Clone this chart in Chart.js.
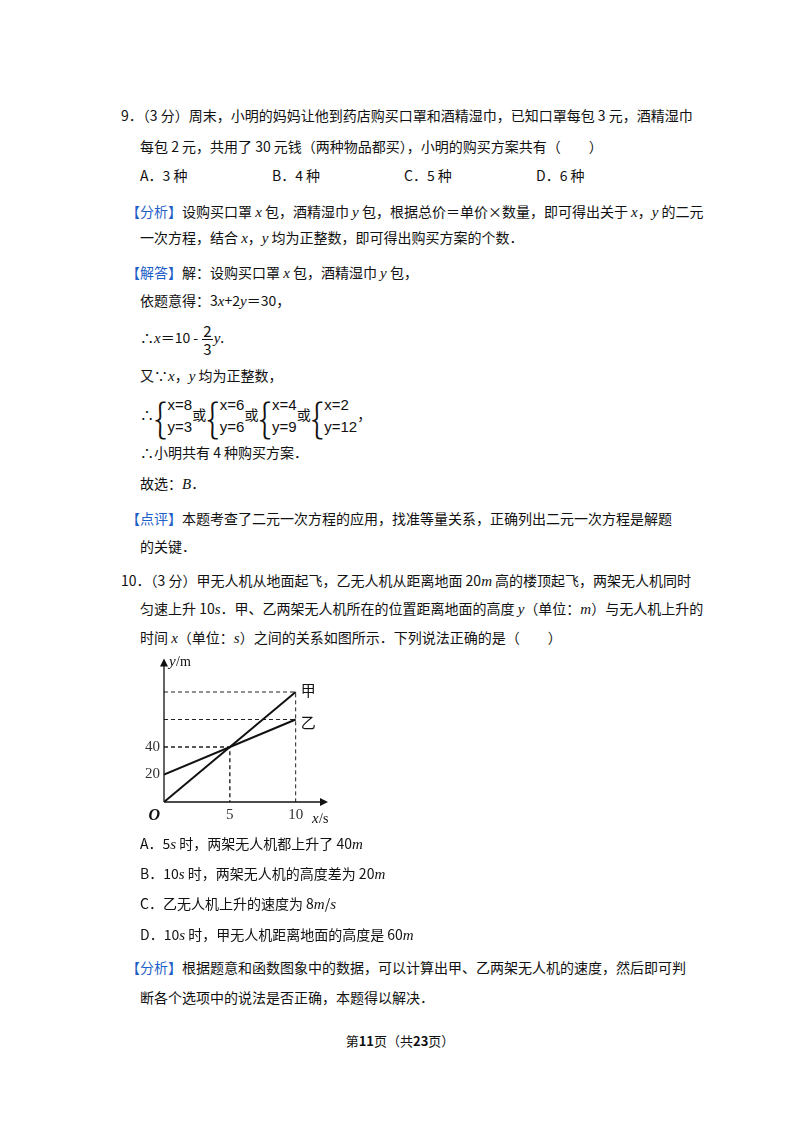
<!DOCTYPE html>
<html><head><meta charset="utf-8">
<script src="https://cdn.jsdelivr.net/npm/chart.js@4"></script>
<style>
body{margin:0;width:800px;height:1132px;background:#fff;font-family:"Noto Sans CJK SC","DejaVu Serif",serif;font-size:14px;color:#111;position:relative}
.l{position:absolute;white-space:nowrap;line-height:20px}
.b{color:#1f5fc8}
i{font-family:"Liberation Serif",serif;font-size:15px}
#wrap{position:absolute;left:130px;top:655px;width:210px;height:180px}
.br{font-size:40px;vertical-align:middle;font-weight:200;margin-right:1px}
.sys{display:inline-block;vertical-align:middle;line-height:22px;font-size:15px;font-family:"Liberation Sans",sans-serif}
</style></head><body>
<div class="l" style="left:121px;top:105px">9．（3 分）周末，小明的妈妈让他到药店购买口罩和酒精湿巾，已知口罩每包 3 元，酒精湿巾</div>
<div class="l" style="left:140px;top:136px">每包 2 元，共用了 30 元钱（两种物品都买），小明的购买方案共有（　　）</div>
<div class="l" style="left:140px;top:165px">A．3 种</div>
<div class="l" style="left:272px;top:165px">B．4 种</div>
<div class="l" style="left:404px;top:165px">C．5 种</div>
<div class="l" style="left:536px;top:165px">D．6 种</div>
<div class="l" style="left:126px;top:201px"><span class="b">【分析】</span>设购买口罩 <i>x</i> 包，酒精湿巾 <i>y</i> 包，根据总价＝单价×数量，即可得出关于 <i>x</i>，<i>y</i> 的二元</div>
<div class="l" style="left:140px;top:227px">一次方程，结合 <i>x</i>，<i>y</i> 均为正整数，即可得出购买方案的个数．</div>
<div class="l" style="left:126px;top:262px"><span class="b">【解答】</span>解：设购买口罩 <i>x</i> 包，酒精湿巾 <i>y</i> 包，</div>
<div class="l" style="left:140px;top:290px">依题意得：3<i>x</i>+2<i>y</i>＝30，</div>
<div class="l" style="left:140px;top:322px">∴<i>x</i>＝10 - <span style="display:inline-block;vertical-align:middle;text-align:center;font-size:15px;line-height:17px;margin:0 1px"><span style="display:block;border-bottom:1px solid #111;padding:0 1px">2</span>3</span><i>y</i>.</div>
<div class="l" style="left:140px;top:365px">又∵<i>x</i>，<i>y</i> 均为正整数，</div>
<div class="l" style="left:140px;top:394px">∴<span class="br">{</span><span class="sys">x=8<br>y=3</span>或<span class="br">{</span><span class="sys">x=6<br>y=6</span>或<span class="br">{</span><span class="sys">x=4<br>y=9</span>或<span class="br">{</span><span class="sys">x=2<br>y=12</span>，</div>
<div class="l" style="left:140px;top:442px">∴小明共有 4 种购买方案．</div>
<div class="l" style="left:140px;top:473px">故选：<i>B</i>．</div>
<div class="l" style="left:126px;top:508px"><span class="b">【点评】</span>本题考查了二元一次方程的应用，找准等量关系，正确列出二元一次方程是解题</div>
<div class="l" style="left:140px;top:536px">的关键．</div>
<div class="l" style="left:121px;top:570px">10．（3 分）甲无人机从地面起飞，乙无人机从距离地面 20<i>m</i> 高的楼顶起飞，两架无人机同时</div>
<div class="l" style="left:140px;top:598px">匀速上升 10<i>s</i>．甲、乙两架无人机所在的位置距离地面的高度 <i>y</i>（单位：<i>m</i>）与无人机上升的</div>
<div class="l" style="left:140px;top:627px">时间 <i>x</i>（单位：<i>s</i>）之间的关系如图所示．下列说法正确的是（　　）</div>
<div id="wrap"><canvas id="c"></canvas></div>
<div class="l" style="left:140px;top:833px">A．5<i>s</i> 时，两架无人机都上升了 40<i>m</i></div>
<div class="l" style="left:140px;top:863px">B．10<i>s</i> 时，两架无人机的高度差为 20<i>m</i></div>
<div class="l" style="left:140px;top:893px">C．乙无人机上升的速度为 8<i>m</i>/<i>s</i></div>
<div class="l" style="left:140px;top:924px">D．10<i>s</i> 时，甲无人机距离地面的高度是 60<i>m</i></div>
<div class="l" style="left:126px;top:957px"><span class="b">【分析】</span>根据题意和函数图象中的数据，可以计算出甲、乙两架无人机的速度，然后即可判</div>
<div class="l" style="left:140px;top:987px">断各个选项中的说法是否正确，本题得以解决．</div>
<div class="l" style="left:0;width:800px;text-align:center;top:1031px;font-size:13px">第<b>11</b>页（共<b>23</b>页）</div>
<script>
const timesX = [0, 10];
const heightJia = [0, 80];
const heightYi = [20, 60];
const meetX = 5, meetY = 40;
const xTicks = [5, 10];
const yTicks = [20, 40];

const pts = (xs, ys) => xs.map((x, i) => ({x, y: ys[i]}));
const dash = {borderColor: '#222', borderWidth: 1, borderDash: [4, 3], pointRadius: 0, showLine: true};

const axesPlugin = {
  id: 'axes',
  afterDraw(chart) {
    const {ctx} = chart, sx = chart.scales.x, sy = chart.scales.y;
    const ox = sx.getPixelForValue(0), oy = sy.getPixelForValue(0);
    ctx.save();
    ctx.strokeStyle = ctx.fillStyle = '#111';
    ctx.lineWidth = 1.3;
    ctx.beginPath();
    ctx.moveTo(ox, oy); ctx.lineTo(sx.right, oy);
    ctx.moveTo(ox, oy); ctx.lineTo(ox, sy.top);
    ctx.stroke();
    ctx.beginPath();
    ctx.moveTo(sx.right + 6, oy); ctx.lineTo(sx.right - 2, oy - 4); ctx.lineTo(sx.right - 2, oy + 4);
    ctx.moveTo(ox, sy.top - 6); ctx.lineTo(ox - 4, sy.top + 2); ctx.lineTo(ox + 4, sy.top + 2);
    ctx.fill();
    ctx.fillStyle = '#333';
    ctx.font = '15px "Liberation Serif", serif';
    ctx.textAlign = 'center'; ctx.textBaseline = 'top';
    xTicks.forEach(t => ctx.fillText(t, sx.getPixelForValue(t), oy + 6));
    ctx.textAlign = 'right'; ctx.textBaseline = 'middle';
    yTicks.forEach(t => ctx.fillText(t, ox - 4, sy.getPixelForValue(t)));
    ctx.fillStyle = '#111';
    ctx.font = 'bold italic 16px "Liberation Serif", serif';
    ctx.fillText('O', ox - 4, oy + 14);
    ctx.textAlign = 'left';
    ctx.font = 'italic 15px "Liberation Serif", serif';
    ctx.fillText('x', sx.right - 10, oy + 17);
    ctx.font = '14px "Liberation Serif", serif';
    ctx.fillText('/s', sx.right - 3, oy + 17);
    ctx.font = 'italic 15px "Liberation Serif", serif';
    ctx.fillText('y', ox + 5, sy.top - 2);
    ctx.font = '14px "Liberation Serif", serif';
    ctx.fillText('/m', ox + 12, sy.top - 2);
    ctx.font = '15px "Noto Sans CJK SC"';
    const x10 = sx.getPixelForValue(10);
    ctx.fillText('甲', x10 + 5, sy.getPixelForValue(heightJia[1]) - 2);
    ctx.fillText('乙', x10 + 5, sy.getPixelForValue(heightYi[1]) + 3);
    ctx.restore();
  }
};

new Chart(document.getElementById('c'), {
  type: 'scatter',
  data: {
    datasets: [
      {data: pts(timesX, heightJia), borderColor: '#111', borderWidth: 2, pointRadius: 0, showLine: true},
      {data: pts(timesX, heightYi), borderColor: '#111', borderWidth: 2, pointRadius: 0, showLine: true},
      {...dash, data: [{x: 0, y: heightJia[1]}, {x: 10, y: heightJia[1]}, {x: 10, y: 0}]},
      {...dash, data: [{x: 0, y: heightYi[1]}, {x: 10, y: heightYi[1]}]},
      {...dash, borderWidth: 1.4, data: [{x: 0, y: meetY}, {x: meetX, y: meetY}, {x: meetX, y: 0}]},
    ],
  },
  options: {
    responsive: true, maintainAspectRatio: false, animation: false,
    layout: {padding: {left: 34, right: 18, top: 9.5, bottom: 33}},
    plugins: {legend: {display: false}, tooltip: {enabled: false}},
    scales: {
      x: {type: 'linear', min: 0, max: 12, display: false},
      y: {type: 'linear', min: 0, max: 100, display: false},
    },
  },
  plugins: [axesPlugin],
});
</script>
</body></html>
